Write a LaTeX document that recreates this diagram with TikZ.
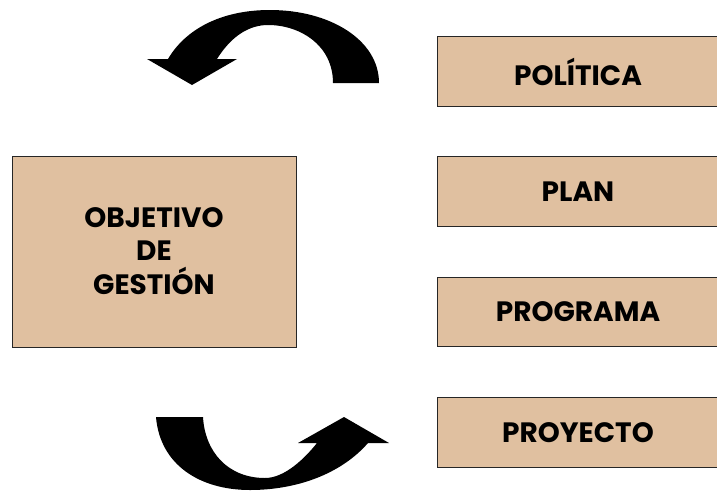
\documentclass[tikz,border=0pt]{standalone}
\usepackage{fontspec}
\setmainfont{Poppins}
\definecolor{boxfill}{RGB}{224,192,160}
\tikzset{
  box/.style={draw=black!85, line width=0.9pt, fill=boxfill, inner sep=0pt},
  lbl/.style={font=\fontsize{28}{33.5}\selectfont\bfseries, text=black, align=center},
  curvearrow/.style={fill=black, draw=none}
}
\begin{document}
\begin{tikzpicture}[x=1pt,y=-1pt]
\useasboundingbox (0,0) rectangle (717,491);
% right boxes
\draw[box] (437,36) rectangle (718,106);
\draw[box] (437,156) rectangle (718,226);
\draw[box] (437,277) rectangle (718,346);
\draw[box] (437,397) rectangle (718,467);
\node[lbl] (pol) at (578,72) {POLÍTICA};
\node[lbl] (plan) at (578,192) {PLAN};
\node[lbl] (prog) at (578,312) {PROGRAMA};
\node[lbl] (proy) at (578,433) {PROYECTO};
% left box
\draw[box] (12,156) rectangle (296,347);
\node[lbl] (obj) at (154,251) {OBJETIVO\\DE\\GESTIÓN};
% top curved arrow
\fill[curvearrow] (333,83) -- (379,83) .. controls (379,40) and (330,10) .. (270,10)
  .. controls (220,10) and (185,30) .. (168,59) -- (147,59) -- (192,85) -- (237,59) -- (217,59)
  .. controls (232,35) and (250,25) .. (268,25) .. controls (300,25) and (333,45) .. (333,83) -- cycle;
% bottom curved arrow
\fill[curvearrow] (156,417) -- (203,417) .. controls (205,452) and (228,478) .. (265,478)
  .. controls (285,478) and (305,458) .. (317,443) -- (298,443) -- (344,417) -- (389,443) -- (368,443)
  .. controls (340,475) and (295,490) .. (250,490) .. controls (200,490) and (160,465) .. (156,417) -- cycle;
\end{tikzpicture}
\end{document}
